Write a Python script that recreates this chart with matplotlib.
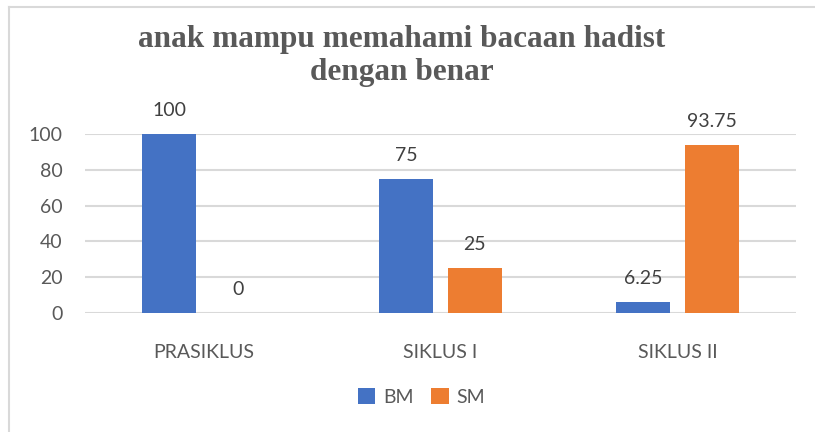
import matplotlib.pyplot as plt
from matplotlib.lines import Line2D
import numpy as np

# data
categories = ["PRASIKLUS", "SIKLUS I", "SIKLUS II"]
bm = [100, 75, 6.25]
sm = [0, 25, 93.75]
series_names = ["BM", "SM"]
yticks = [0, 20, 40, 60, 80, 100]

blue = "#4472C4"
orange = "#ED7D31"
txt = "#595959"
grid_c = "#D9D9D9"

plt.rcParams['font.family'] = ['Lato', 'DejaVu Sans']

fig = plt.figure(figsize=(8.15, 4.32), dpi=100)
ax = fig.add_axes([85 / 815, 1 - 313 / 432, (796 - 85) / 815, (313 - 134) / 432])

x = np.arange(len(categories))
w = 0.228
off = 0.144
b1 = ax.bar(x - off, bm, w, color=blue, label=series_names[0], zorder=3)
b2 = ax.bar(x + off, sm, w, color=orange, label=series_names[1], zorder=3)

for bars, vals in ((b1, bm), (b2, sm)):
    for r, v in zip(bars, vals):
        lab = "%g" % v
        ax.annotate(lab, (r.get_x() + r.get_width() / 2, v), xytext=(0, 17),
                    textcoords="offset points", ha="center", va="center",
                    fontsize=14, color="#404040", annotation_clip=False)

ax.set_xlim(-0.5, 2.5)
ax.set_ylim(0, 100)
ax.set_yticks(yticks)
ax.set_xticks(x)
ax.set_xticklabels(categories)
ax.tick_params(axis="both", length=0, labelsize=14, labelcolor=txt)
ax.tick_params(axis="x", pad=22)
ax.tick_params(axis="y", pad=16)
ax.yaxis.grid(True, color=grid_c, linewidth=1.5, zorder=0)
ax.set_axisbelow(True)
for s in ax.spines.values():
    s.set_visible(False)

fig.text(0.4926, 1 - 56 / 432, "anak mampu memahami bacaan hadist\ndengan benar",
         ha="center", va="center", fontsize=22.5, fontweight="bold",
         color=txt, family="Liberation Serif", linespacing=1.2)

fig.legend(handles=[b1, b2], labels=series_names, loc="center",
           bbox_to_anchor=(0.517, 1 - 397 / 432), ncol=2, frameon=False,
           fontsize=14, labelcolor=txt, handlelength=0.9, handleheight=0.9,
           handletextpad=0.4, columnspacing=0.9)

# chart border (only left and top show)
fig.add_artist(Line2D([9 / 815, 9 / 815], [0, 1 - 7 / 432], color=grid_c, linewidth=1.5))
fig.add_artist(Line2D([9 / 815, 1], [1 - 7 / 432, 1 - 7 / 432], color=grid_c, linewidth=1.5))

fig.savefig("out.png", dpi=100)
